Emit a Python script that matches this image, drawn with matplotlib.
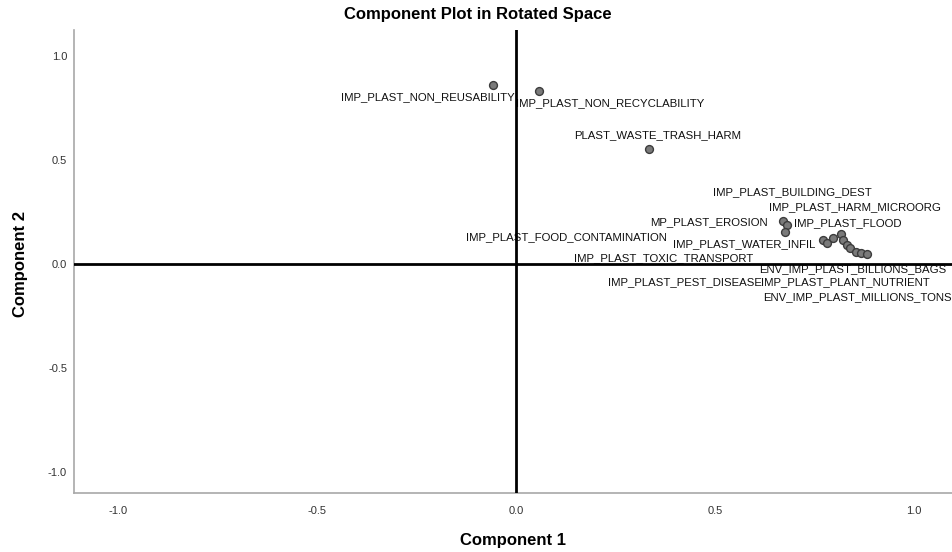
import matplotlib as mpl
import matplotlib.pyplot as plt

mpl.rcParams["font.family"] = ["Liberation Sans", "DejaVu Sans"]

# component loadings
comp1 = [-0.056, 0.059, 0.335,
         0.671, 0.682, 0.677,
         0.771, 0.781, 0.796, 0.817, 0.821, 0.832, 0.840, 0.854, 0.867, 0.882]
comp2 = [0.861, 0.833, 0.553,
         0.207, 0.188, 0.155,
         0.115, 0.102, 0.124, 0.143, 0.115, 0.091, 0.075, 0.056, 0.051, 0.048]

# variable labels as SPSS placed them (text, x, y, alignment)
labels = [
    "IMP_PLAST_NON_REUSABILITY",
    "IMP_PLAST_NON_RECYCLABILITY",
    "PLAST_WASTE_TRASH_HARM",
    "IMP_PLAST_BUILDING_DEST",
    "IMP_PLAST_HARM_MICROORG",
    "MP_PLAST_EROSION",
    "IMP_PLAST_FLOOD",
    "IMP_PLAST_FOOD_CONTAMINATION",
    "IMP_PLAST_WATER_INFIL",
    "IMP_PLAST_TOXIC_TRANSPORT",
    "ENV_IMP_PLAST_BILLIONS_BAGS",
    "IMP_PLAST_PEST_DISEASE",
    "IMP_PLAST_PLANT_NUTRIENT",
    "ENV_IMP_PLAST_MILLIONS_TONS",
]
label_x = [-0.0025, 0.0, 0.146, 0.495, 0.636, 0.633, 0.698, -0.126,
           0.394, 0.146, 0.611, 0.231, 0.616, 0.621]
label_y = [0.803, 0.774, 0.620, 0.346, 0.274, 0.202, 0.197, 0.130,
           0.096, 0.029, -0.022, -0.087, -0.087, -0.159]
label_ha = ["right", "left", "left", "left", "left", "right", "left", "left",
            "left", "left", "left", "left", "left", "left"]

ticks = [-1.0, -0.5, 0.0, 0.5, 1.0]

fig = plt.figure(figsize=(9.52, 5.52), dpi=100)
ax = fig.add_axes([74 / 952, 59 / 552, 878 / 952, 463 / 552])

ax.set_xlim(-1.11, 1.096)
ax.set_ylim(-1.10, 1.125)

ax.axhline(0, color="black", lw=2.0, zorder=3)
ax.axvline(0, color="black", lw=2.0, zorder=3)

ax.scatter(comp1, comp2, s=32, facecolor="#7a7a7a", edgecolor="#3c3c3c",
           linewidths=1.0, zorder=4)

for txt, tx, ty, ha in zip(labels, label_x, label_y, label_ha):
    ax.text(tx, ty, txt, ha=ha, va="center", fontsize=8.2, color="#111111",
            zorder=2)

ax.set_xticks(ticks)
ax.set_yticks(ticks)
ax.set_xticklabels([f"{t:.1f}" for t in ticks])
ax.set_yticklabels([f"{t:.1f}" for t in ticks])
ax.tick_params(axis="both", length=0, labelsize=8, labelcolor="#333333")
ax.tick_params(axis="x", pad=9)
ax.tick_params(axis="y", pad=5)

for side in ["top", "right"]:
    ax.spines[side].set_visible(False)
for side in ["left", "bottom"]:
    ax.spines[side].set_color("#a8a8a8")
    ax.spines[side].set_linewidth(1.2)

fig.text(478 / 952, 1 - 15 / 552, "Component Plot in Rotated Space",
         ha="center", va="center", fontsize=12, fontweight="bold")
fig.text(513 / 952, 1 - 541 / 552, "Component 1", ha="center", va="center",
         fontsize=12, fontweight="bold")
fig.text(21 / 952, 1 - 264 / 552, "Component 2", ha="center", va="center",
         rotation=90, fontsize=12, fontweight="bold")

plt.savefig("out.png", dpi=100)
